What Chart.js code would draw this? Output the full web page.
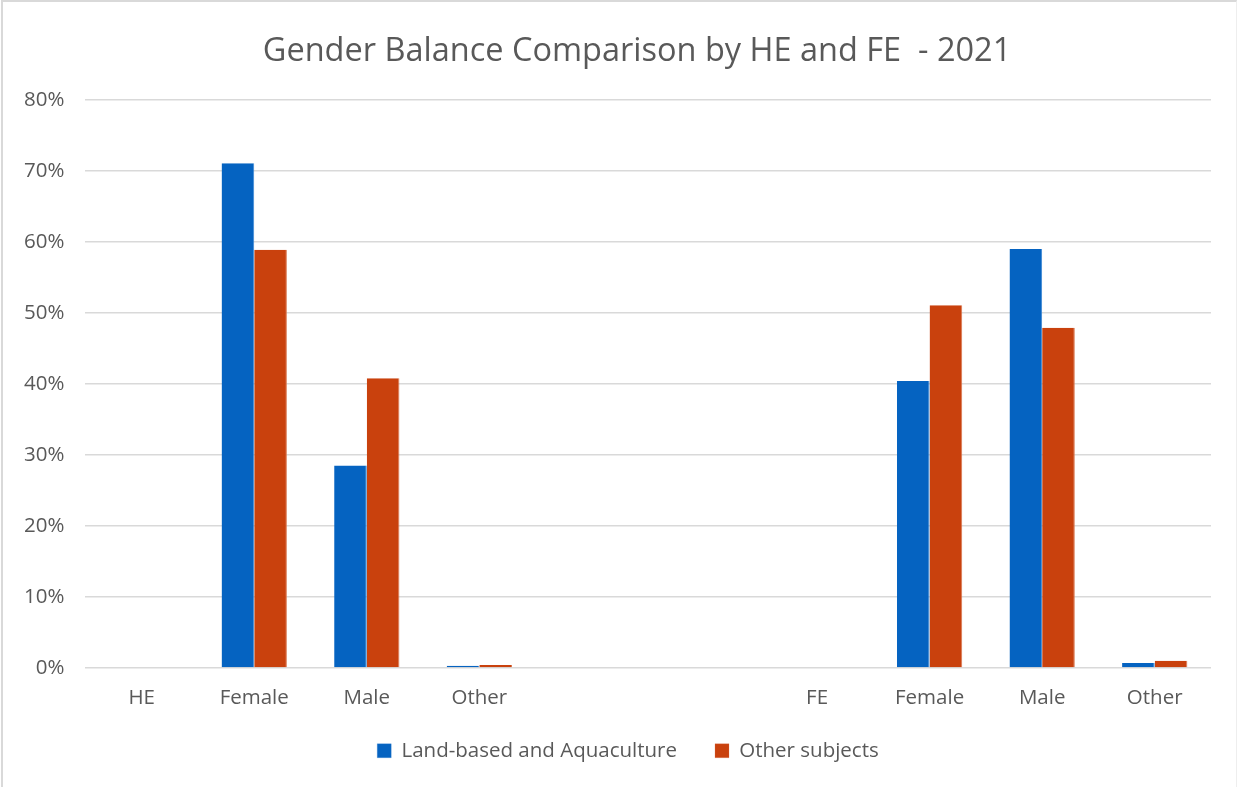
<!DOCTYPE html>
<html>
<head>
<meta charset="utf-8">
<script src="https://cdn.jsdelivr.net/npm/chart.js@4/dist/chart.umd.min.js"></script>
<style>
  html, body { margin: 0; padding: 0; background: #fff; }
  #wrap {
    position: absolute; left: 1px; top: 0;
    width: 1236px; height: 787px;
    border-top: 2px solid #d9d9d9;
    border-left: 2px solid #d9d9d9;
    border-right: 1px solid #eeeeee;
    box-sizing: border-box;
  }
</style>
</head>
<body>
<div id="wrap"><canvas id="genderChart"></canvas></div>
<script>
    const categories = ['HE', 'Female', 'Male', 'Other', '', '', 'FE', 'Female', 'Male', 'Other'];
    const landBased = [null, 0.711, 0.285, 0.003, null, null, null, 0.404, 0.590, 0.007];
    const otherSubjects = [null, 0.589, 0.408, 0.004, null, null, null, 0.511, 0.479, 0.010];
    const yTicks = [0, 0.1, 0.2, 0.3, 0.4, 0.5, 0.6, 0.7, 0.8];

    const fontFamily = '"Open Sans", "DejaVu Sans", sans-serif';
    const textColor = '#595959';

    // excel centres title and legend a little right of the canvas middle
    const boxNudge = {
      id: 'boxNudge',
      afterLayout(chart) {
        const lg = chart.legend;
        if (lg) {
          lg.left += 21; lg.right += 21;
          lg.top -= 8; lg.bottom -= 8;
        }
        const tb = chart.titleBlock;
        if (tb) {
          tb.left += 30; tb.right += 30;
        }
      }
    };

    const ctx = document.getElementById('genderChart').getContext('2d');
    const genderChart = new Chart(ctx, {
      type: 'bar',
      data: {
        labels: categories,
        datasets: [{
          label: 'Land-based and Aquaculture',
          data: landBased,
          backgroundColor: '#0563C1',
          borderColor: '#3b86d4',
          borderWidth: { right: 1 },
          categoryPercentage: 0.58,
          barPercentage: 1.0
        }, {
          label: 'Other subjects',
          data: otherSubjects,
          backgroundColor: '#C9410D',
          borderColor: '#d9774f',
          borderWidth: { right: 1 },
          categoryPercentage: 0.58,
          barPercentage: 1.0
        }]
      },
      options: {
        responsive: true,
        maintainAspectRatio: false,
        animation: false,
        layout: { padding: { top: 10, left: 0, right: 25, bottom: 8 } },
        plugins: {
          title: {
            display: true,
            text: 'Gender Balance Comparison by HE and FE  - 2021',
            color: textColor,
            font: { family: fontFamily, size: 32.5, weight: 'normal' },
            padding: { top: 20, bottom: 29 }
          },
          legend: {
            position: 'bottom',
            labels: {
              color: textColor,
              font: { family: fontFamily, size: 20.5 },
              boxWidth: 14,
              boxHeight: 14,
              padding: 38
            }
          },
          tooltip: { enabled: false }
        },
        scales: {
          x: {
            grid: { display: false },
            border: { display: false },
            afterFit: axis => { axis.height -= 10; },
            ticks: {
              color: textColor,
              font: { family: fontFamily, size: 20.5 },
              padding: 10
            }
          },
          y: {
            min: 0,
            max: 0.8,
            afterBuildTicks: axis => { axis.ticks = yTicks.map(v => ({ value: v })); },
            grid: { color: '#d9d9d9', lineWidth: 1.5, drawTicks: false },
            border: { display: false },
            ticks: {
              color: textColor,
              font: { family: fontFamily, size: 20.5 },
              padding: 21,
              callback: v => Math.round(v * 100) + '%'
            }
          }
        }
      },
      plugins: [boxNudge]
    });
</script>
</body>
</html>
